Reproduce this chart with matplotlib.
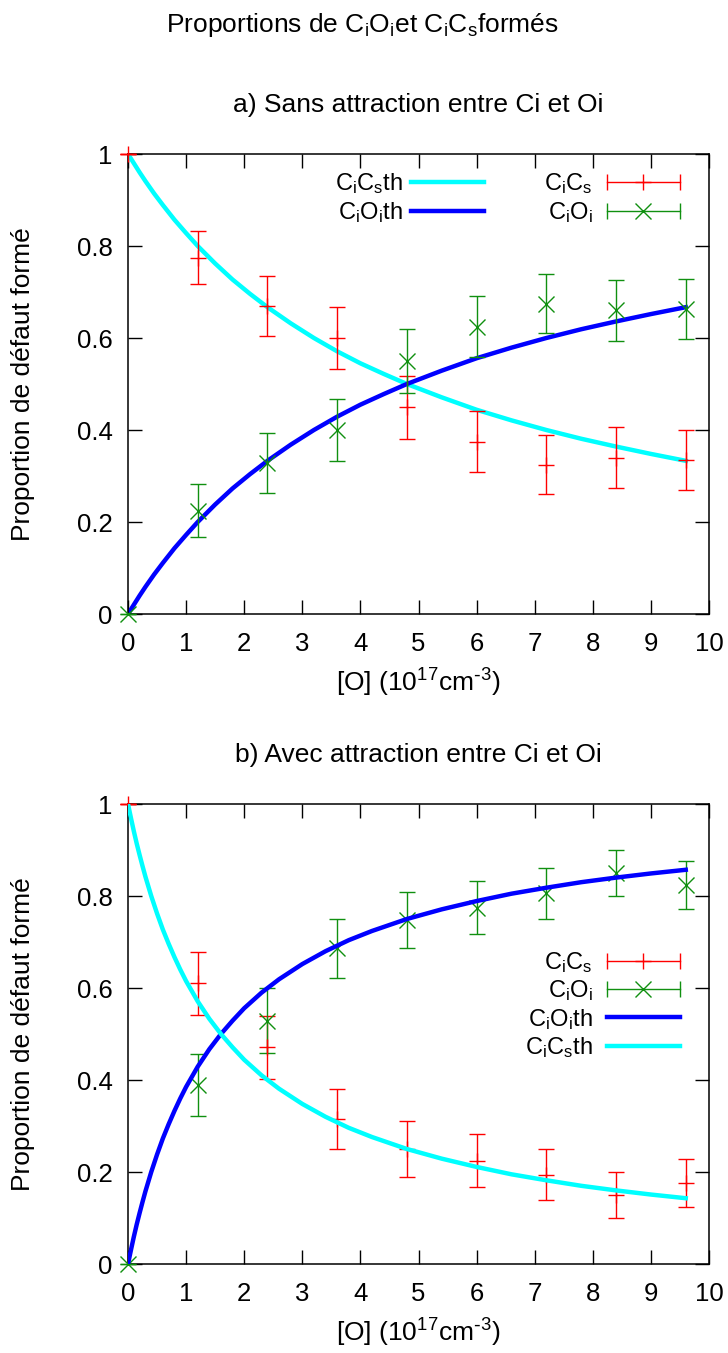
import numpy as np
import matplotlib
matplotlib.use("Agg")
import matplotlib.pyplot as plt
from matplotlib.lines import Line2D
from matplotlib.legend_handler import HandlerBase

plt.rcParams['font.family'] = ['Liberation Sans', 'DejaVu Sans']
plt.rcParams['mathtext.default'] = 'regular'

#####################################################################
#                           DATA                                    #
#####################################################################
### measured points (same x for both panels)
x_pts = [0, 1.2, 2.4, 3.6, 4.8, 6.0, 7.2, 8.4, 9.6]

### a) sans attraction
cics_a = [1.0, 0.775, 0.670, 0.600, 0.449, 0.375, 0.325, 0.340, 0.334]
cics_a_err = [0, 0.058, 0.065, 0.068, 0.069, 0.067, 0.065, 0.066, 0.065]
cioi_a = [0.0, 0.225, 0.328, 0.400, 0.550, 0.625, 0.675, 0.660, 0.663]
cioi_a_err = [0, 0.058, 0.065, 0.068, 0.069, 0.067, 0.065, 0.066, 0.066]

### theory curves a
x_th_a = [0, 0.1, 0.2, 0.3, 0.45, 0.6, 0.8, 1.0, 1.2, 1.5, 1.8, 2.1, 2.4, 2.8,
          3.2, 3.6, 4.0, 4.4, 4.8, 5.4, 6.0, 6.6, 7.2, 7.8, 8.4, 9.0, 9.6]
cioi_th_a = [0, 0.020, 0.040, 0.059, 0.086, 0.111, 0.143, 0.172, 0.200, 0.238,
             0.273, 0.304, 0.333, 0.368, 0.400, 0.429, 0.455, 0.478, 0.500,
             0.529, 0.556, 0.579, 0.600, 0.619, 0.636, 0.652, 0.667]
cics_th_a = [1, 0.980, 0.960, 0.941, 0.914, 0.889, 0.857, 0.828, 0.800, 0.762,
             0.727, 0.696, 0.667, 0.632, 0.600, 0.571, 0.545, 0.522, 0.500,
             0.471, 0.444, 0.421, 0.400, 0.381, 0.364, 0.348, 0.333]

### b) avec attraction
cics_b = [1.0, 0.610, 0.471, 0.315, 0.250, 0.225, 0.194, 0.150, 0.176]
cics_b_err = [0, 0.068, 0.068, 0.065, 0.060, 0.058, 0.055, 0.050, 0.053]
cioi_b = [0.0, 0.389, 0.529, 0.686, 0.748, 0.775, 0.806, 0.850, 0.824]
cioi_b_err = [0, 0.067, 0.070, 0.065, 0.060, 0.058, 0.055, 0.049, 0.052]

### theory curves b
x_th_b = [0, 0.025, 0.05, 0.1, 0.15, 0.2, 0.25, 0.3, 0.4, 0.5, 0.6, 0.7, 0.8,
          0.9, 1.0, 1.2, 1.4, 1.6, 1.8, 2.0, 2.3, 2.6, 3.0, 3.4, 3.8, 4.2, 4.8,
          5.4, 6.0, 6.6, 7.2, 7.8, 8.4, 9.0, 9.6]
cioi_th_b = [0, 0.015, 0.030, 0.059, 0.086, 0.111, 0.135, 0.158, 0.200, 0.238,
             0.273, 0.304, 0.333, 0.360, 0.385, 0.429, 0.467, 0.500, 0.529,
             0.556, 0.590, 0.619, 0.652, 0.680, 0.704, 0.724, 0.750, 0.771,
             0.789, 0.805, 0.818, 0.830, 0.840, 0.849, 0.857]
cics_th_b = [1, 0.985, 0.970, 0.941, 0.914, 0.889, 0.865, 0.842, 0.800, 0.762,
             0.727, 0.696, 0.667, 0.640, 0.615, 0.571, 0.533, 0.500, 0.471,
             0.444, 0.410, 0.381, 0.348, 0.320, 0.296, 0.276, 0.250, 0.229,
             0.211, 0.195, 0.182, 0.170, 0.160, 0.151, 0.143]

x_ticks = list(range(0, 11))
y_ticks = [0, 0.2, 0.4, 0.6, 0.8, 1.0]
y_ticklabels = ['0', '0.2', '0.4', '0.6', '0.8', '1']

### colors
RED = '#ff0000'
GREEN = '#109010'
BLUE = '#0000ff'
CYAN = '#00ffff'

LBL_CICS = 'C$_i$C$_s$'
LBL_CIOI = 'C$_i$O$_i$'
LBL_CICS_TH = 'C$_i$C$_s$th'
LBL_CIOI_TH = 'C$_i$O$_i$th'
XLABEL = r'[O] (10$^{17}$cm$^{\text{-}3}$)'

FS_TICK = 18.5
FS_LAB = 19
FS_LEG = 17


### legend handle: horizontal error bar like gnuplot
class HandlerXErr(HandlerBase):
    def create_artists(self, legend, orig_handle, xdescent, ydescent,
                       width, height, fontsize, trans):
        y = height / 2. - ydescent
        x0 = -xdescent
        x1 = width - xdescent
        c = orig_handle.get_color()
        bar = Line2D([x0, x1], [y, y], color=c, lw=1)
        caps = Line2D([x0, x1], [y, y], ls='none', marker='|', ms=11, mew=1, color=c)
        mk = Line2D([(x0 + x1) / 2.], [y], ls='none', marker=orig_handle.get_marker(),
                    ms=11.5, mew=1, color=c)
        for a in (bar, caps, mk):
            a.set_transform(trans)
        return [bar, caps, mk]


def points(ax, y, err, marker, color):
    ax.errorbar(x_pts, y, yerr=err, fmt=marker, color=color, ms=11.5, mew=1,
                elinewidth=1, capsize=5.8, capthick=1, clip_on=False, zorder=3)


def setup_axes(ax):
    ax.set_xlim(0, 10)
    ax.set_ylim(0, 1)
    ax.set_xticks(x_ticks)
    ax.set_yticks(y_ticks)
    ax.set_yticklabels(y_ticklabels)
    ax.tick_params(direction='in', length=10, width=1, top=True, right=True,
                   labelsize=FS_TICK, colors='black')
    ax.tick_params(axis='x', pad=13)
    ax.tick_params(axis='y', pad=11)
    for s in ax.spines.values():
        s.set_linewidth(1.1)


#####################################################################
#                           FIGURE                                  #
#####################################################################
fig = plt.figure(figsize=(7.28, 13.53), dpi=100)
ax_a = fig.add_axes([128/728., 1 - 614/1353., 581/728., 460/1353.])
ax_b = fig.add_axes([128/728., 1 - 1264/1353., 581/728., 460/1353.])

xc = (128 + 290.5) / 728.

fig.text(0.498, 1 - 25/1353., 'Proportions de C$_i$O$_i$et C$_i$C$_s$formés',
         ha='center', va='center', fontsize=FS_LAB)

### panel a
l_cics_th, = ax_a.plot(x_th_a, cics_th_a, color=CYAN, lw=3.2, label=LBL_CICS_TH)
l_cioi_th, = ax_a.plot(x_th_a, cioi_th_a, color=BLUE, lw=3.2, label=LBL_CIOI_TH)
points(ax_a, cics_a, cics_a_err, '+', RED)
points(ax_a, cioi_a, cioi_a_err, 'x', GREEN)
setup_axes(ax_a)

p_cics = Line2D([], [], color=RED, marker='+')
p_cioi = Line2D([], [], color=GREEN, marker='x')
hmap = {p_cics: HandlerXErr(), p_cioi: HandlerXErr()}

leg1 = ax_a.legend([l_cics_th, l_cioi_th], [LBL_CICS_TH, LBL_CIOI_TH],
                   loc='upper right', bbox_to_anchor=(0.613, 0.962), frameon=False,
                   fontsize=FS_LEG, markerfirst=False, handlelength=3.1,
                   handletextpad=0.35, labelspacing=0.15, borderpad=0, borderaxespad=0)
ax_a.add_artist(leg1)
ax_a.legend([p_cics, p_cioi], [LBL_CICS, LBL_CIOI], handler_map=hmap,
            loc='upper right', bbox_to_anchor=(0.950, 0.962), frameon=False,
            fontsize=FS_LEG, markerfirst=False, handlelength=3.1,
            handletextpad=0.6, labelspacing=0.15, borderpad=0, borderaxespad=0)

fig.text(xc, 1 - 105/1353., 'a) Sans attraction entre Ci et Oi',
         ha='center', va='center', fontsize=FS_LAB)
fig.text(xc, 1 - 683/1353., XLABEL, ha='center', va='center', fontsize=FS_LAB)
fig.text(23/728., 1 - 384/1353., 'Proportion de défaut formé', rotation=90,
         ha='center', va='center', fontsize=FS_LAB)

### panel b
points(ax_b, cics_b, cics_b_err, '+', RED)
points(ax_b, cioi_b, cioi_b_err, 'x', GREEN)
lb_cioi_th, = ax_b.plot(x_th_b, cioi_th_b, color=BLUE, lw=3.2, zorder=4)
lb_cics_th, = ax_b.plot(x_th_b, cics_th_b, color=CYAN, lw=3.2, zorder=4)
setup_axes(ax_b)

ax_b.legend([p_cics, p_cioi, lb_cioi_th, lb_cics_th],
            [LBL_CICS, LBL_CIOI, LBL_CIOI_TH, LBL_CICS_TH], handler_map=hmap,
            loc='upper right', bbox_to_anchor=(0.950, 0.683), frameon=False,
            fontsize=FS_LEG, markerfirst=False, handlelength=3.1,
            handletextpad=0.6, labelspacing=0.15, borderpad=0, borderaxespad=0)

fig.text(xc, 1 - 755/1353., 'b) Avec attraction entre Ci et Oi',
         ha='center', va='center', fontsize=FS_LAB)
fig.text(xc, 1 - 1333/1353., XLABEL, ha='center', va='center', fontsize=FS_LAB)
fig.text(23/728., 1 - 1034/1353., 'Proportion de défaut formé', rotation=90,
         ha='center', va='center', fontsize=FS_LAB)

plt.savefig('out.png', dpi=100)
